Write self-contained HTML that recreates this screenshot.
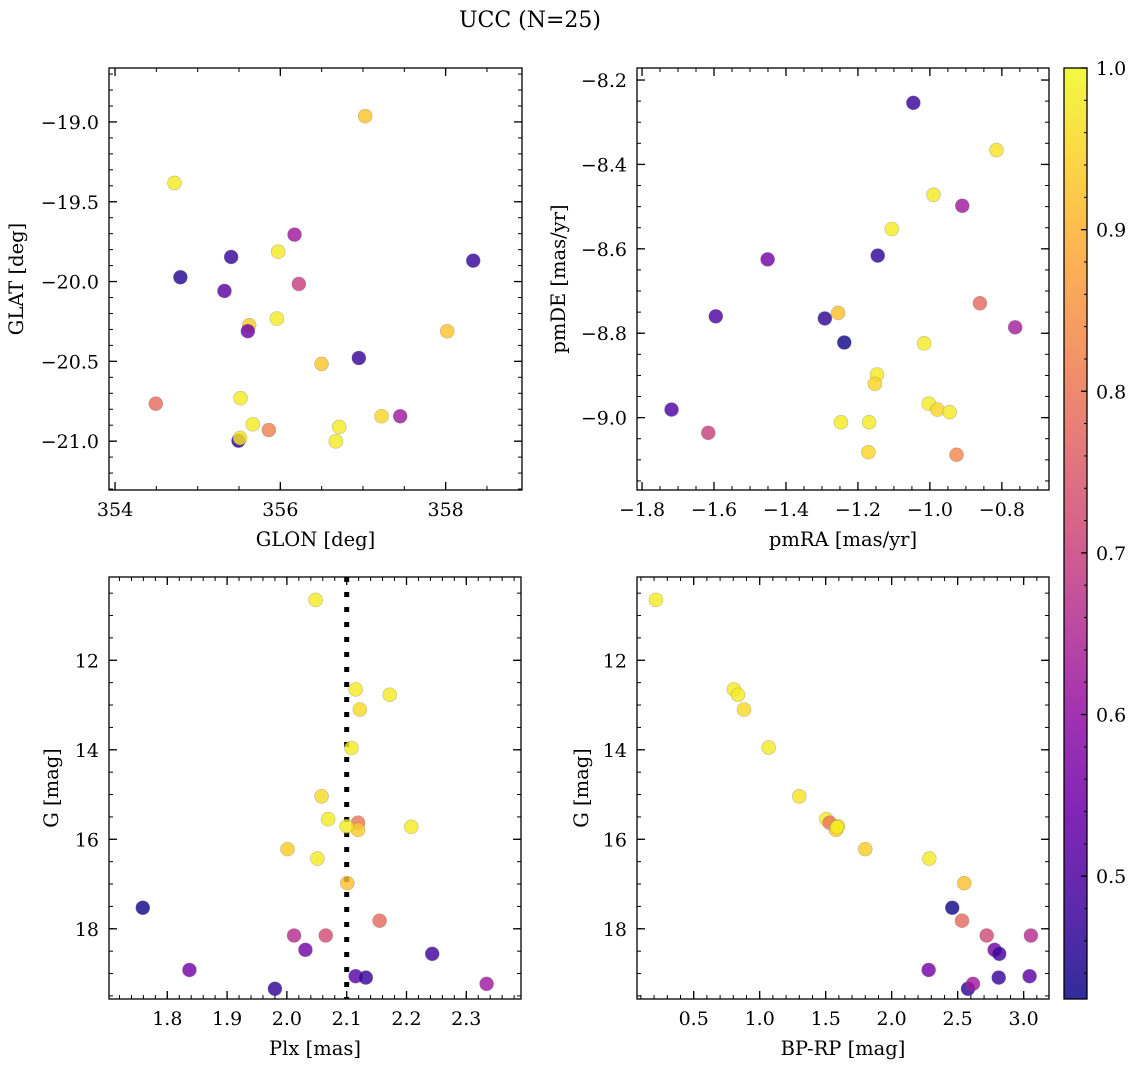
<!DOCTYPE html>
<html><head><meta charset="utf-8">
<style>
html,body{margin:0;padding:0;background:#fff;}
svg{display:block;font-family:"DejaVu Serif","Liberation Serif",serif;}
</style></head>
<body>
<svg id="fig" width="1136" height="1067" viewBox="0 0 1136 1067" xmlns="http://www.w3.org/2000/svg">
<text x="530" y="27" font-size="22" text-anchor="middle">UCC (N=25)</text>
<defs>
<linearGradient id="cbgrad" x1="0" y1="1" x2="0" y2="0">
<stop offset="0" stop-color="#0d0887"/><stop offset="0.1" stop-color="#41049d"/><stop offset="0.2" stop-color="#6a00a8"/><stop offset="0.3" stop-color="#8f0da4"/><stop offset="0.4" stop-color="#b12a90"/><stop offset="0.5" stop-color="#cc4778"/><stop offset="0.6" stop-color="#e16462"/><stop offset="0.7" stop-color="#f2844b"/><stop offset="0.8" stop-color="#fca636"/><stop offset="0.9" stop-color="#fcce25"/><stop offset="1" stop-color="#f0f921"/>
</linearGradient>
</defs>
</svg>
<script>
// ---- data: panel 1 (GLON vs GLAT)
const glon = [357.027,354.719,356.172,355.974,355.405,358.334,354.791,356.224,355.324,355.958,355.623,355.607,358.019,356.95,356.499,354.493,355.518,355.667,355.861,355.494,355.513,356.712,356.672,357.225,357.45];
const glat = [-18.964,-19.382,-19.706,-19.813,-19.846,-19.869,-19.973,-20.015,-20.059,-20.232,-20.274,-20.311,-20.311,-20.479,-20.516,-20.765,-20.731,-20.894,-20.93,-20.997,-20.98,-20.911,-21.001,-20.844,-20.844];
const probA = [0.93,0.98,0.62,0.98,0.47,0.47,0.45,0.70,0.52,0.98,0.94,0.54,0.93,0.47,0.93,0.78,0.98,0.98,0.82,0.45,0.97,0.98,0.98,0.95,0.62];
// ---- panel 2 (pmRA vs pmDE)
const pmra = [-1.046,-0.815,-0.990,-0.910,-1.106,-1.145,-1.451,-1.595,-1.292,-1.255,-0.861,-0.763,-1.238,-1.016,-1.147,-1.153,-1.003,-0.979,-0.945,-1.718,-1.616,-1.247,-1.169,-1.171,-0.926];
const pmde = [-8.254,-8.366,-8.472,-8.498,-8.553,-8.616,-8.625,-8.760,-8.765,-8.752,-8.729,-8.786,-8.822,-8.824,-8.898,-8.920,-8.967,-8.981,-8.987,-8.981,-9.036,-9.011,-9.011,-9.082,-9.088];
const probB = [0.47,0.97,0.98,0.62,0.98,0.46,0.55,0.50,0.46,0.92,0.78,0.63,0.43,0.98,0.98,0.95,0.98,0.95,0.98,0.50,0.70,0.98,0.98,0.95,0.83];
// ---- panel 3 (Plx vs G)
const plx = [2.048,2.115,2.172,2.122,2.108,2.058,2.069,2.119,2.119,2.100,2.208,2.001,2.051,2.101,1.759,2.155,2.012,2.065,2.031,2.243,1.837,2.115,2.132,1.980,2.334];
const gmagC = [10.65,12.65,12.77,13.10,13.96,15.04,15.55,15.63,15.79,15.71,15.72,16.22,16.43,16.98,17.53,17.82,18.15,18.15,18.47,18.56,18.92,19.06,19.09,19.34,19.23];
const probC = [0.98,0.98,0.98,0.96,0.98,0.96,0.98,0.80,0.94,0.98,0.98,0.94,0.98,0.92,0.43,0.78,0.66,0.72,0.55,0.48,0.55,0.52,0.47,0.46,0.62];
const plxRef = 2.1;
// ---- panel 4 (BP-RP vs G)
const bprp = [0.214,0.805,0.836,0.881,1.068,1.300,1.505,1.530,1.578,1.593,1.586,1.800,2.285,2.550,2.459,2.533,2.720,3.055,2.780,2.815,2.280,2.811,3.045,2.578,2.616];
const gmagD = [10.65,12.65,12.77,13.10,13.95,15.04,15.55,15.63,15.79,15.71,15.73,16.22,16.43,16.98,17.53,17.82,18.15,18.15,18.47,18.56,18.92,19.09,19.06,19.34,19.23];
const probD = [0.98,0.98,0.98,0.96,0.98,0.97,0.98,0.80,0.94,0.98,0.98,0.94,0.98,0.92,0.43,0.78,0.72,0.66,0.55,0.48,0.55,0.47,0.52,0.46,0.62];
// ---- tick labels
const ticksAx = [354,356,358];
const ticksAy = [-19.0,-19.5,-20.0,-20.5,-21.0];
const ticksBx = [-1.8,-1.6,-1.4,-1.2,-1.0,-0.8];
const ticksBy = [-8.2,-8.4,-8.6,-8.8,-9.0];
const ticksCx = [1.8,1.9,2.0,2.1,2.2,2.3];
const ticksGy = [12,14,16,18];
const ticksDx = [0.5,1.0,1.5,2.0,2.5,3.0];
const ticksCb = [0.5,0.6,0.7,0.8,0.9,1.0];
const cbMin = 0.424, cbMax = 1.0;

const NS = "http://www.w3.org/2000/svg";
const svg = document.getElementById('fig');
function mk(tag, attrs, parent){const e=document.createElementNS(NS,tag);for(const k in attrs)e.setAttribute(k,attrs[k]);(parent||svg).appendChild(e);return e;}
const stops=[[13,8,135],[65,4,157],[106,0,168],[143,13,164],[177,42,144],[204,71,120],[225,100,98],[242,132,75],[252,166,54],[252,206,37],[240,249,33]];
function plasma(v){let t=(v-cbMin)/(cbMax-cbMin);t=Math.max(0,Math.min(1,t))*10;const i=Math.min(9,Math.floor(t));const f=t-i;const a=stops[i],b=stops[i+1];return 'rgb('+[0,1,2].map(k=>Math.round(a[k]+(b[k]-a[k])*f)).join(',')+')';}
function fmt(v,d){const s=Math.abs(v).toFixed(d);return (v<0?'\u2212':'')+s;}

function panel(cfg){
  const g=mk('g',{});
  
  
  const {L,T,R,B,x0,x1,y0,y1}=cfg;
  const sx=v=>L+(v-x0)/(x1-x0)*(R-L);
  const sy=v=>T+(y1-v)/(y1-y0)*(B-T);
  const eps=1e-9;
  for(let v=Math.ceil(x0/cfg.xmin-eps)*cfg.xmin; v<=x1; v+=cfg.xmin){const x=sx(v);
    mk('line',{x1:x,y1:B,x2:x,y2:B-4,stroke:'#000','stroke-width':1},g);
    mk('line',{x1:x,y1:T,x2:x,y2:T+4,stroke:'#000','stroke-width':1},g);}
  for(let v=Math.ceil(y0/cfg.ymin-eps)*cfg.ymin; v<=y1; v+=cfg.ymin){const y=sy(v);
    mk('line',{x1:L,y1:y,x2:L+4,y2:y,stroke:'#000','stroke-width':1},g);
    mk('line',{x1:R,y1:y,x2:R-4,y2:y,stroke:'#000','stroke-width':1},g);}
  cfg.xt.forEach(v=>{const x=sx(v);
    mk('line',{x1:x,y1:B,x2:x,y2:B-8,stroke:'#000','stroke-width':1.3},g);
    mk('line',{x1:x,y1:T,x2:x,y2:T+8,stroke:'#000','stroke-width':1.3},g);
    const t=mk('text',{x:x,y:B+26,'font-size':19,'text-anchor':'middle'},g);t.textContent=fmt(v,cfg.xd);
    
    });
  cfg.yt.forEach(v=>{const y=sy(v);
    mk('line',{x1:L,y1:y,x2:L+8,y2:y,stroke:'#000','stroke-width':1.3},g);
    mk('line',{x1:R,y1:y,x2:R-8,y2:y,stroke:'#000','stroke-width':1.3},g);
    const t=mk('text',{x:L-10,y:y+7,'font-size':19,'text-anchor':'end'},g);t.textContent=cfg.absY?fmt(Math.abs(v),cfg.yd):fmt(v,cfg.yd);
    
    });
  if(cfg.vline!==undefined){const x=sx(cfg.vline);
    const l=mk('line',{x1:x,y1:T,x2:x,y2:B,stroke:'#000','stroke-width':5,'stroke-dasharray':'5 10'},g);
    
    }
  cfg.xs.forEach((v,i)=>{
    const c=mk('circle',{cx:sx(v),cy:sy(cfg.ys[i]),r:7,fill:plasma(cfg.cs[i]),'fill-opacity':0.82,stroke:'#777','stroke-opacity':0.45,'stroke-width':0.6},g);
    
    });
  mk('rect',{x:L,y:T,width:R-L,height:B-T,fill:'none',stroke:'#000','stroke-width':1.3},g);
  const xl=mk('text',{x:(L+R)/2,y:B+56,'font-size':19.5,'text-anchor':'middle'},g);xl.textContent=cfg.xlab;
  
  
  const yx=cfg.ylx, yy=(T+B)/2;
  const yl=mk('text',{x:yx,y:yy,'font-size':19.5,'text-anchor':'middle',transform:'rotate(-90 '+yx+' '+yy+')'},g);yl.textContent=cfg.ylab;
  
  
}

panel({name:'glon-glat-panel',L:109,T:68,R:522,B:490,x0:353.927,x1:358.924,y0:-21.306,y1:-18.662,xmin:0.5,ymin:0.1,xt:ticksAx,yt:ticksAy,xd:0,yd:1,xs:glon,ys:glat,cs:probA,xlab:'GLON [deg]',ylab:'GLAT [deg]',ylx:23});
panel({name:'pm-panel',L:637,T:68,R:1049,B:490,x0:-1.814,x1:-0.669,y0:-9.1715,y1:-8.1715,xmin:0.05,ymin:0.05,xt:ticksBx,yt:ticksBy,xd:1,yd:1,xs:pmra,ys:pmde,cs:probB,xlab:'pmRA [mas/yr]',ylab:'pmDE [mas/yr]',ylx:565});
panel({name:'plx-g-panel',L:109,T:577,R:521,B:999,x0:1.7025,x1:2.3915,y0:-19.569,y1:-10.139,xmin:0.02,ymin:0.5,xt:ticksCx,yt:ticksGy.map(v=>-v),absY:true,xd:1,yd:0,xs:plx,ys:gmagC.map(v=>-v),cs:probC,xlab:'Plx [mas]',ylab:'G [mag]',ylx:58,vline:plxRef});
panel({name:'cmd-panel',L:637,T:577,R:1049,B:999,x0:0.0705,x1:3.192,y0:-19.569,y1:-10.139,xmin:0.1,ymin:0.5,xt:ticksDx,yt:ticksGy.map(v=>-v),absY:true,xd:1,yd:0,xs:bprp,ys:gmagD.map(v=>-v),cs:probD,xlab:'BP-RP [mag]',ylab:'G [mag]',ylx:588});

// colorbar
const cb=mk('g',{});


const cT=68,cB=999,cL=1064,cR=1087;
const cy=v=>cT+(cbMax-v)/(cbMax-cbMin)*(cB-cT);
mk('rect',{x:cL,y:cT,width:cR-cL,height:cB-cT,fill:'url(#cbgrad)','fill-opacity':0.85},cb);
for(let v=0.44; v<1.0; v+=0.02){const y=cy(v);mk('line',{x1:cR,y1:y,x2:cR-3,y2:y,stroke:'#000','stroke-width':1},cb);}
ticksCb.forEach(v=>{const y=cy(v);
  mk('line',{x1:cR,y1:y,x2:cR-6,y2:y,stroke:'#000','stroke-width':1.3},cb);
  const t=mk('text',{x:1096,y:y+7,'font-size':19},cb);t.textContent=v.toFixed(1);
  
  });
mk('rect',{x:cL,y:cT,width:cR-cL,height:cB-cT,fill:'none',stroke:'#000','stroke-width':1.3},cb);
</script>
</body></html>
